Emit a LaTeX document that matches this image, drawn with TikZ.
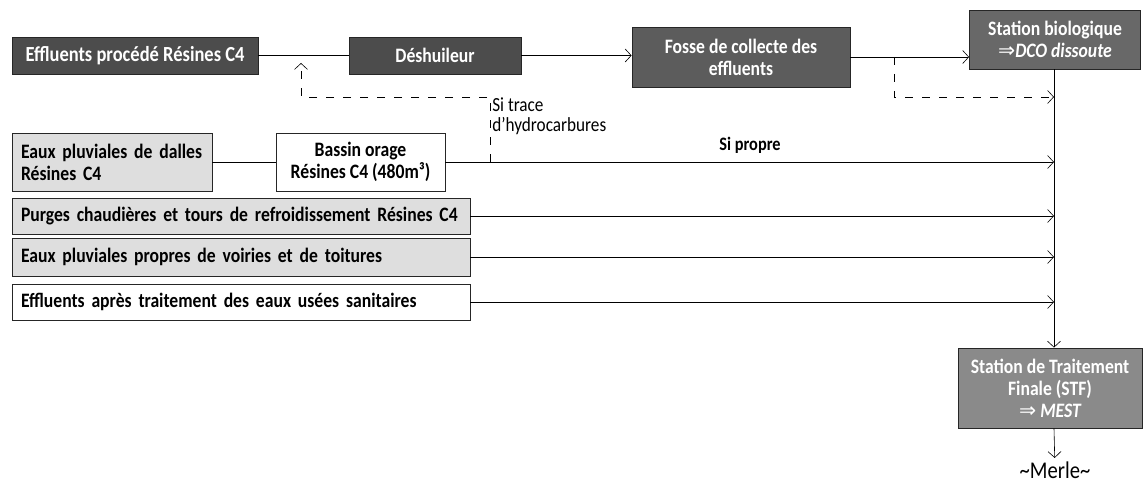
\documentclass[tikz,border=0pt]{standalone}
\usepackage{fontspec}
\setmainfont{Carlito}[FakeStretch=0.86]
\newfontfamily\symfont{DejaVu Sans}
\usepackage{tikz}
\usetikzlibrary{positioning, arrows.meta}
\definecolor{boxdark}{HTML}{4C4C4C}
\definecolor{boxfosse}{HTML}{5C5C5C}
\definecolor{boxbio}{HTML}{686868}
\definecolor{boxstf}{HTML}{8A8A8A}
\definecolor{boxlight}{HTML}{DEDEDE}
\newcommand{\implto}{{\symfont\upshape\mdseries ⇒}}

\begin{document}
\begin{tikzpicture}[x=1pt, y=-1pt, >={Straight Barb[length=6pt,width=13pt]}, semithick,
    box/.style={draw=black!85, thick, minimum height=37pt, inner sep=2pt,
                font=\fontsize{20.5}{22}\selectfont\bfseries},
    darkbox/.style={box, fill=boxdark, text=white, align=center},
    lightbox/.style={box, fill=boxlight, align=left, inner xsep=9pt},
    whitebox/.style={box, fill=white, align=left, inner xsep=9pt},
    dashline/.style={dash pattern=on 8pt off 9pt}]
    \useasboundingbox (0,0) rectangle (1144,489);

    % upper chain
    \node[darkbox, minimum width=246pt, font=\fontsize{21.5}{24}\selectfont\bfseries] (proc) at (135,55.5) {Effluents procédé Résines C4};
    \node[darkbox, minimum width=172pt] (desh) at (435,55.5) {Déshuileur};
    \node[darkbox, fill=boxfosse, minimum width=218pt, minimum height=60pt] (fosse) at (741,57) {Fosse de collecte des\\effluents};
    \node[darkbox, fill=boxbio, minimum width=171pt, minimum height=59pt] (bio) at (1055,39.5) {Station biologique\\\implto{\itshape DCO dissoute}};

    % other sources
    \node[lightbox, text width=182pt, minimum height=58pt] (dalles) at (112,162) {Eaux pluviales de dalles\\Résines C4};
    \node[whitebox, align=center, minimum width=169pt, minimum height=58pt] (bassin) at (360.5,162) {Bassin orage\\Résines C4 (480m³)};
    \node[lightbox, text width=440pt, minimum height=36pt] (purges) at (241,216) {Purges chaudières et tours de refroidissement Résines C4};
    \node[lightbox, text width=440pt, minimum height=38pt] (voiries) at (241,257) {Eaux pluviales propres de voiries et de toitures};
    \node[whitebox, text width=440pt, minimum height=36pt] (sanit) at (241,302) {Effluents après traitement des eaux usées sanitaires};

    \node[darkbox, fill=boxstf, minimum width=184pt, minimum height=80pt] (stf) at (1050,388) {Station de Traitement\\Finale (STF)\\\implto{} {\itshape MEST}};
    \node[font=\fontsize{24}{26}\selectfont] (merle) at (1055,470) {\textasciitilde Merle\textasciitilde};

    % labels
    \node[anchor=south, font=\fontsize{19}{20}\selectfont\bfseries] (propre) at (750,157) {Si propre};
    \node[anchor=north west, align=left, inner sep=0pt, font=\fontsize{20}{20}\selectfont] (trace) at (492,97) {Si trace\\d'hydrocarbures};

    \coordinate (col) at (1054,0);
    \coordinate (split) at (894,57);
    \coordinate (bypass) at (894,97);
    \coordinate (trBot) at (490,162);
    \coordinate (trTop) at (490,97);
    \coordinate (retBot) at (301,97);
    \coordinate (retTop) at (301,63);

    \draw (proc) -- (desh);
    \draw[->] (desh) -- (desh -| fosse.west);
    \draw[->] (fosse.east) -- (fosse.east -| bio.west);
    \draw[->, dashline] (split) -- (bypass) -- (bypass -| col);
    \draw (dalles) -- (bassin);
    \draw[->] (bassin) -- (bassin -| col);
    \draw[->, dashline] (trBot) -- (trTop) -- (retBot) -- (retTop);
    \draw[->] (purges) -- (purges -| col);
    \draw[->] (voiries) -- (voiries -| col);
    \draw[->] (sanit) -- (sanit -| col);
    \draw[->] (bio.south -| col) -- (stf.north -| col);
    \draw[->] (stf.south -| col) -- (merle);
\end{tikzpicture}
\end{document}
